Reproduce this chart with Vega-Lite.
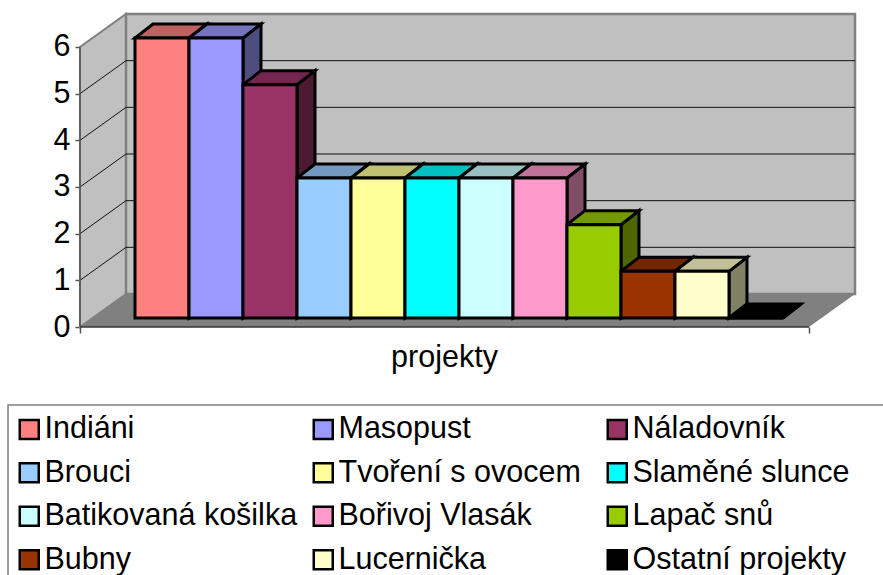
{
"$schema":"https://vega.github.io/schema/vega-lite/v6.json",
"width":775,"height":313,
"autosize":"none",
"padding":{"left":80,"right":28,"top":14,"bottom":248},
"background":"white",
"config":{"view":{"stroke":null},"font":"Liberation Sans",
"legend":{"padding":6,"labelFont":"Liberation Sans","labelFontSize":30.5,"labelColor":"black","labelLimit":400,"labelOffset":0,"symbolType":"square","symbolSize":361,"symbolStrokeWidth":2.5,"symbolStrokeColor":"black","columnPadding":10,"rowPadding":12.5,"gridAlign":"all"}},
"datasets":{
"bars":[
{"name":"Indiáni","order":0,"value":6},
{"name":"Masopust","order":1,"value":6},
{"name":"Náladovník","order":2,"value":5},
{"name":"Brouci","order":3,"value":3},
{"name":"Tvoření s ovocem","order":4,"value":3},
{"name":"Slaměné slunce","order":5,"value":3},
{"name":"Batikovaná košilka","order":6,"value":3},
{"name":"Bořivoj Vlasák","order":7,"value":3},
{"name":"Lapač snů","order":8,"value":2},
{"name":"Bubny","order":9,"value":1},
{"name":"Lucernička","order":10,"value":1},
{"name":"Ostatní projekty","order":11,"value":0}
],
"depths":[{"depth":0},{"depth":1}],
"ticks":[{"tick":1},{"tick":2},{"tick":3},{"tick":4},{"tick":5}]
},
"resolve":{"scale":{"fill":"independent"}},
"layer":[
{"data":{"name":"depths"},
 "transform":[{"calculate":"datum.depth*0.852","as":"px"},{"calculate":"datum.depth*0.707","as":"py"},{"calculate":"6+datum.depth*0.707","as":"py2"}],
 "mark":{"type":"area","fill":"#C0C0C0","stroke":"#808080","strokeWidth":2},
 "encoding":{"x":{"field":"px","type":"quantitative","scale":{"domain":[0,14.352],"nice":false,"zero":false},"axis":{"values":[0,13.5],"labels":false,"domain":false,"grid":false,"tickColor":"#555555","tickWidth":1.5,"tickSize":6,"title":"projekty","titleFont":"Liberation Sans","titleFontSize":30.5,"titleFontWeight":"normal","titleColor":"black","titleX":364,"titleY":39,"titleAlign":"center","titleBaseline":"alphabetic"}},
 "y":{"field":"py","type":"quantitative","scale":{"domain":[0,6.707],"nice":false,"zero":false},"axis":{"values":[0,1,2,3,4,5,6],"format":"d","domain":false,"grid":false,"tickColor":"#555555","tickWidth":1.5,"tickSize":5,"labelFont":"Liberation Sans","labelFontSize":30.5,"labelColor":"black","labelPadding":5,"title":null}},"y2":{"field":"py2"}}},
{"data":{"name":"depths"},
 "transform":[{"calculate":"datum.depth*0.707","as":"py"},{"calculate":"datum.depth*0.852","as":"px"},{"calculate":"13.5+datum.depth*0.852","as":"px2"}],
 "mark":{"type":"area","orient":"horizontal","fill":"#808080"},
 "encoding":{"y":{"field":"py","type":"quantitative"},"x":{"field":"px","type":"quantitative"},"x2":{"field":"px2"}}},
{"mark":{"type":"rect","fill":"#C0C0C0","stroke":"#808080","strokeWidth":2.5},"data":{"values":[{"a":1}]},
 "encoding":{"x":{"datum":0.852,"type":"quantitative"},"x2":{"datum":14.352},"y":{"datum":0.707,"type":"quantitative"},"y2":{"datum":6.707}}},
{"data":{"name":"ticks"},
 "transform":[{"calculate":"[0,1,2]","as":"k"},{"flatten":["k"]},{"calculate":"datum.k==0?0:(datum.k==1?0.852:14.352)","as":"px"},{"calculate":"datum.tick+(datum.k>0?0.707:0)","as":"py"}],
 "mark":{"type":"line","color":"#111111","strokeWidth":1},
 "encoding":{"x":{"field":"px","type":"quantitative"},"y":{"field":"py","type":"quantitative"},"detail":{"field":"tick"},"order":{"field":"k"}}},
{"data":{"values":[{"a":1}]},"mark":{"type":"rule","color":"#555555","strokeWidth":1.5},
 "encoding":{"x":{"datum":0,"type":"quantitative"},
 "y":{"datum":0,"type":"quantitative"},"y2":{"datum":6}}},
{"data":{"values":[{"a":1}]},"mark":{"type":"rule","color":"#333333","strokeWidth":1.5},
 "encoding":{"x":{"datum":0,"type":"quantitative"},"x2":{"datum":13.5},"y":{"datum":0,"type":"quantitative"}}},
{"data":{"name":"bars"},
 "transform":[{"calculate":"[0,1]","as":"d"},{"flatten":["d"]},{"calculate":"datum.order+2.0185+datum.d/3","as":"px"},{"calculate":"datum.value+0.193+0.3*datum.d","as":"py"},{"calculate":"0.193+0.3*datum.d","as":"py2"}],
 "mark":{"type":"area","stroke":"black","strokeWidth":3,"strokeJoin":"miter"},
 "encoding":{"x":{"field":"px","type":"quantitative"},"y":{"field":"py","type":"quantitative"},"y2":{"field":"py2"},"detail":{"field":"name"},
 "fill":{"field":"name","type":"nominal","legend":null,"scale":{"domain":["Indiáni","Masopust","Náladovník","Brouci","Tvoření s ovocem","Slaměné slunce","Batikovaná košilka","Bořivoj Vlasák","Lapač snů","Bubny","Lucernička","Ostatní projekty"],"range":["#804040","#4D4D80","#4D1A33","#4D6680","#80804D","#008080","#668080","#804D66","#4D6600","#4D1A00","#808066","#000000"]}}}},
{"data":{"name":"bars"},
 "transform":[{"calculate":"[0,1]","as":"d"},{"flatten":["d"]},{"calculate":"datum.value+0.193+0.3*datum.d","as":"py"},{"calculate":"datum.order+1.0185+datum.d/3","as":"px"},{"calculate":"datum.order+2.0185+datum.d/3","as":"px2"}],
 "mark":{"type":"area","orient":"horizontal","stroke":"black","strokeWidth":3,"strokeJoin":"miter"},
 "encoding":{"y":{"field":"py","type":"quantitative"},"x":{"field":"px","type":"quantitative"},"x2":{"field":"px2"},"detail":{"field":"name"},
 "fill":{"field":"name","type":"nominal","legend":null,"scale":{"domain":["Indiáni","Masopust","Náladovník","Brouci","Tvoření s ovocem","Slaměné slunce","Batikovaná košilka","Bořivoj Vlasák","Lapač snů","Bubny","Lucernička","Ostatní projekty"],"range":["#C06060","#7373C0","#732650","#7399C0","#C0C073","#00C0C0","#99C0C0","#C07399","#739900","#732600","#C0C099","#000000"]}}}},
{"data":{"name":"bars"},
 "transform":[{"calculate":"datum.order+1.0185","as":"px"},{"calculate":"datum.order+2.0185","as":"px2"},{"calculate":"datum.value+0.193","as":"py"},{"calculate":"0.193","as":"py2"}],
 "mark":{"type":"rect","stroke":"black","strokeWidth":3,"strokeJoin":"miter"},
 "encoding":{"x":{"field":"px","type":"quantitative"},"x2":{"field":"px2"},"y":{"field":"py","type":"quantitative"},"y2":{"field":"py2"},
 "fill":{"field":"name","type":"nominal","scale":{"domain":["Indiáni","Masopust","Náladovník","Brouci","Tvoření s ovocem","Slaměné slunce","Batikovaná košilka","Bořivoj Vlasák","Lapač snů","Bubny","Lucernička","Ostatní projekty"],"range":["#FF8080","#9999FF","#993366","#99CCFF","#FFFF99","#00FFFF","#CCFFFF","#FF99CC","#99CC00","#993300","#FFFFCC","#000000"]},
 "legend":{"orient":"none","direction":"horizontal","legendX":-72,"legendY":394,"columns":3,"title":null}}}},
{"data":{"values":[{"a":1}]},"mark":{"type":"rect","fill":null,"stroke":"#808080","strokeWidth":1.5},
 "encoding":{"x":{"datum":-1.333,"type":"quantitative"},"x2":{"datum":16},"y":{"datum":-1.671,"type":"quantitative"},"y2":{"datum":-6}}}
]}
